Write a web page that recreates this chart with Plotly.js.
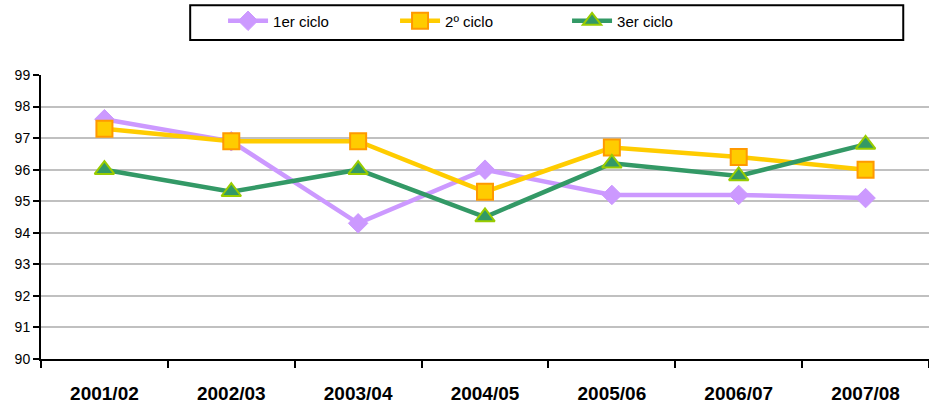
<!DOCTYPE html>
<html>
<head>
<meta charset="utf-8">
<script src="https://cdn.plot.ly/plotly-3.0.1.min.js"></script>
<style>html,body{margin:0;padding:0;background:#fff;}#chart{width:929px;height:410px;}</style>
</head>
<body>
<div id="chart"></div>
<script>
const categories = ["2001/02","2002/03","2003/04","2004/05","2005/06","2006/07","2007/08"];
const ciclo1 = [97.6, 96.9, 94.3, 96.0, 95.2, 95.2, 95.1];
const ciclo2 = [97.3, 96.9, 96.9, 95.3, 96.7, 96.4, 96.0];
const ciclo3 = [96.0, 95.3, 96.0, 94.5, 96.2, 95.8, 96.8];
const seriesNames = ["1er ciclo", "2º ciclo", "3er ciclo"];
const yTicks = [90,91,92,93,94,95,96,97,98,99];

const traces = [
  {x: categories, y: ciclo1, name: seriesNames[0], type: 'scatter', mode: 'lines+markers',
   line: {color: '#CC99FF', width: 4.5},
   marker: {symbol: 'diamond', size: 15, color: '#CC99FF', line: {color: '#CC99FF', width: 1}}},
  {x: categories, y: ciclo2, name: seriesNames[1], type: 'scatter', mode: 'lines+markers',
   line: {color: '#FFCC00', width: 4.5},
   marker: {symbol: 'square', size: 16, color: '#FFCC00', line: {color: '#FF9900', width: 2}}},
  {x: categories, y: ciclo3, name: seriesNames[2], type: 'scatter', mode: 'lines+markers',
   line: {color: '#339966', width: 4.5},
   marker: {symbol: 'triangle-up', size: 17, color: '#339966', line: {color: '#99CC00', width: 2}}}
];

const layout = {
  width: 929, height: 410,
  margin: {l: 41, r: 0, t: 75, b: 51},
  paper_bgcolor: '#fff', plot_bgcolor: '#fff',
  font: {family: 'Liberation Sans, Arial, sans-serif', color: '#000'},
  showlegend: true,
  legend: {orientation: 'h', x: 0.205, xanchor: 'left', y: 1.19, yanchor: 'middle',
    entrywidth: 117, entrywidthmode: 'pixels', font: {size: 15, color: '#000'},
    bgcolor: 'rgba(0,0,0,0)', borderwidth: 0, itemwidth: 40},
  shapes: [{type: 'rect', xref: 'paper', yref: 'paper', x0: 0.168, x1: 0.971, y0: 1.123, y1: 1.246,
    line: {color: '#000', width: 2}, fillcolor: 'rgba(0,0,0,0)'}],
  xaxis: {type: 'category', range: [-0.5, 6.5], showgrid: false, showline: true, linecolor: '#000', linewidth: 2,
    ticks: 'outside', tickson: 'boundaries', ticklen: 7, tickwidth: 2, tickcolor: '#000',
    ticklabelstandoff: 16,
    tickfont: {size: 19, color: '#000', family: 'Liberation Sans, Arial, sans-serif', weight: 'bold'},
    zeroline: false, fixedrange: true},
  yaxis: {range: [90, 99], tickvals: yTicks, ticktext: yTicks.map(String), showgrid: true, gridcolor: '#C0C0C0', gridwidth: 2,
    showline: true, linecolor: '#000', linewidth: 2, ticks: 'outside', ticklen: 6, tickwidth: 2, tickcolor: '#000',
    tickfont: {size: 14, color: '#000'}, zeroline: false, fixedrange: true}
};

Plotly.newPlot('chart', traces, layout, {displayModeBar: false, staticPlot: true});
</script>
</body>
</html>
